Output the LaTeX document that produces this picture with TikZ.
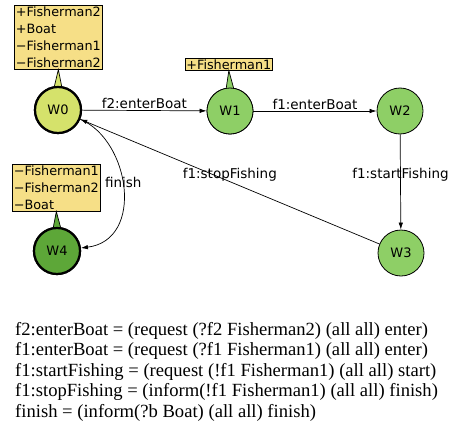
\documentclass[tikz,border=0pt]{standalone}
\usepackage{fontspec}
\setmainfont{Liberation Serif}
\newfontfamily\graphfont{DejaVu Sans}
\usetikzlibrary{arrows.meta}
\usetikzlibrary{calc}
\definecolor{notefill}{HTML}{F6DF87}
\definecolor{startfill}{HTML}{D5E26B}
\definecolor{statefill}{HTML}{8ECF66}
\definecolor{endfill}{HTML}{5DA738}

\tikzset{
    state/.style={circle, draw, fill=statefill, line width=0.8pt, minimum size=46pt, inner sep=0pt,
        font=\graphfont\fontsize{13}{15}\selectfont},
    keystate/.style={state, line width=2.2pt},
    note/.style={draw, fill=notefill, line width=0.7pt, align=left, inner sep=1.5pt,
        font=\graphfont\fontsize{12.8}{17}\selectfont},
    trans/.style={line width=0.7pt, -{Latex[length=7pt,width=4.5pt]}},
    translabel/.style={font=\graphfont\fontsize{13.5}{15}\selectfont, inner sep=1pt},
}

\begin{document}
\begin{tikzpicture}[x=1pt,y=1pt]
    \useasboundingbox (0,0) rectangle (449,-444);
    % states
    \node [keystate, fill=startfill] (w0) at (58,-110) {W0};
    \node [state] (w1) at (230,-111) {W1};
    \node [state] (w2) at (400,-111) {W2};
    \node [state] (w3) at (401,-253) {W3};
    \node [keystate, fill=endfill] (w4) at (57,-251) {W4};
    % notes
    \node [note, anchor=north west] (w0note) at (14,-5) {+Fisherman2\\+Boat\\−Fisherman1\\−Fisherman2};
    \node [note, anchor=north west, inner sep=1pt] (w1note) at (185,-58) {+Fisherman1};
    \node [note, anchor=north west] (w4note) at (12,-164) {−Fisherman1\\−Fisherman2\\−Boat};
    % pointers from notes to states
    \filldraw [fill=startfill, line width=0.7pt] (w0note.south) -- ($(w0.north)+(-4,-2)$) -- ($(w0.north)+(4,-2)$) -- cycle;
    \filldraw [fill=statefill, line width=0.7pt] (w1note.south) -- ($(w1.north)+(-4,-2)$) -- ($(w1.north)+(4,-2)$) -- cycle;
    \filldraw [fill=endfill, line width=0.7pt] (w4note.south) -- ($(w4.north)+(-4,-2)$) -- ($(w4.north)+(4,-2)$) -- cycle;
    % redraw states on top of pointers
    \node [keystate, fill=startfill] at (w0) {W0};
    \node [state] at (w1) {W1};
    \node [keystate, fill=endfill] at (w4) {W4};
    % transitions
    \draw [trans] (w0) -- (w1) node [translabel, midway, above] {f2:enterBoat};
    \draw [trans] (w1) -- (w2) node [translabel, midway, above] {f1:enterBoat};
    \draw [trans] (w2) -- (w3) node [translabel, midway, yshift=7pt] {f1:startFishing};
    \draw [trans] (w3) -- (w0) node [translabel, midway, yshift=7pt] {f1:stopFishing};
    \draw [trans] (w0) .. controls (130,-140) and (145,-240) .. (w4) node [translabel, midway, yshift=6pt] {finish};
    % message definitions
    \node [anchor=north west, align=left, inner sep=0pt, font=\fontsize{18.6}{20.5}\selectfont] (defs) at (15,-322)
        {f2:enterBoat = (request (?f2 Fisherman2) (all all) enter)\\
         f1:enterBoat = (request (?f1 Fisherman1) (all all) enter)\\
         f1:startFishing = (request (!f1 Fisherman1) (all all) start)\\
         f1:stopFishing = (inform(!f1 Fisherman1) (all all) finish)\\
         finish = (inform(?b Boat) (all all) finish)};
\end{tikzpicture}
\end{document}
